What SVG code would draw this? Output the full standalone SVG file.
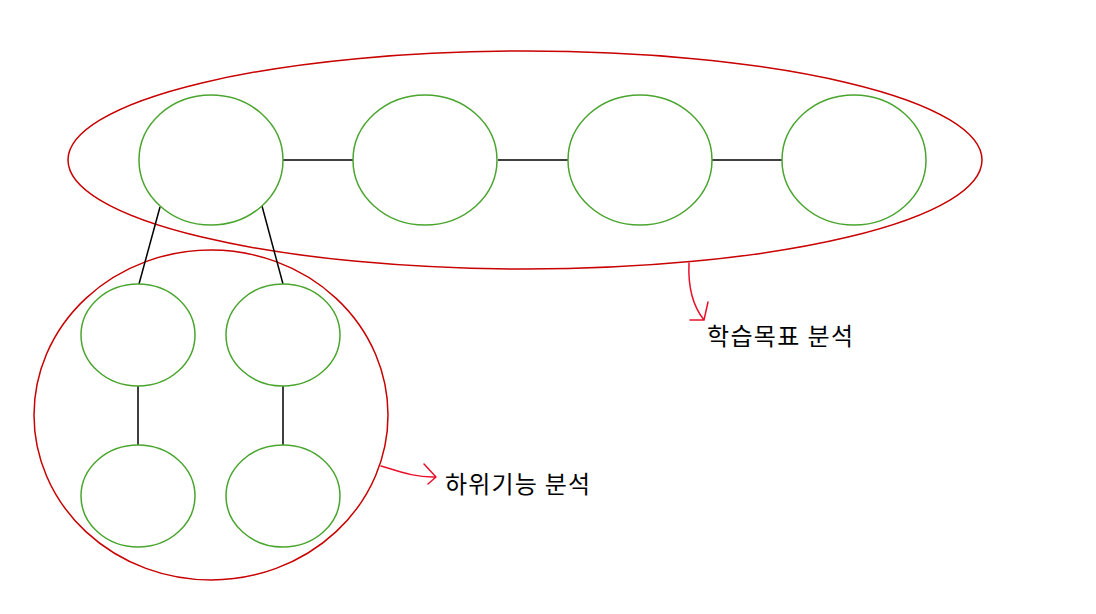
<svg xmlns="http://www.w3.org/2000/svg" width="1096" height="614" viewBox="0 0 1096 614">
<style>
.g{fill:none;stroke:#4aa52e;stroke-width:1.5}
.r{fill:none;stroke:#c80000;stroke-width:1.5}
.l{stroke:#000;stroke-width:1.5;fill:none}
.a{fill:none;stroke:#e8102a;stroke-width:1.5;stroke-linecap:round;stroke-linejoin:round}
.t{font-family:"Noto Sans CJK KR","Noto Sans",sans-serif;font-size:24px;fill:#000}
</style>
<rect width="1096" height="614" fill="#fff"/>
<g id="group-top"><ellipse class="r" cx="525" cy="160" rx="457" ry="109"/></g>
<g id="group-bottom"><ellipse class="r" cx="211" cy="415" rx="177" ry="165"/></g>
<g id="connectors">
<line class="l" x1="283" y1="160" x2="353" y2="160"/>
<line class="l" x1="498" y1="160" x2="568" y2="160"/>
<line class="l" x1="712" y1="160" x2="782" y2="160"/>
<line class="l" x1="160" y1="207" x2="139" y2="284"/>
<line class="l" x1="262" y1="206" x2="283" y2="284"/>
<line class="l" x1="138" y1="386" x2="138" y2="445"/>
<line class="l" x1="283" y1="386" x2="283" y2="445"/>
<path class="a" d="M689 263 C688 285 692 305 704 320 M690 320 L704 320 L708 302"/>
<path class="a" d="M381 466 C395 470 415 478 436 477 M424 464 L436 477 L428 484"/>
</g>
<g id="n1"><ellipse class="g" cx="211" cy="160" rx="72" ry="65"/></g>
<g id="n2"><ellipse class="g" cx="425" cy="160" rx="72" ry="65"/></g>
<g id="n3"><ellipse class="g" cx="640" cy="160" rx="72" ry="65"/></g>
<g id="n4"><ellipse class="g" cx="854" cy="160" rx="72" ry="65"/></g>
<g id="n5"><ellipse class="g" cx="138" cy="335" rx="57" ry="51"/></g>
<g id="n6"><ellipse class="g" cx="283" cy="335" rx="57" ry="51"/></g>
<g id="n7"><ellipse class="g" cx="138" cy="496" rx="57" ry="51"/></g>
<g id="n8"><ellipse class="g" cx="283" cy="496" rx="57" ry="51"/></g>
<g id="label1"><text class="t" x="707" y="345" textLength="146" lengthAdjust="spacing">학습목표 분석</text></g>
<g id="label2"><text class="t" x="445" y="493" textLength="145" lengthAdjust="spacing">하위기능 분석</text></g>
</svg>
